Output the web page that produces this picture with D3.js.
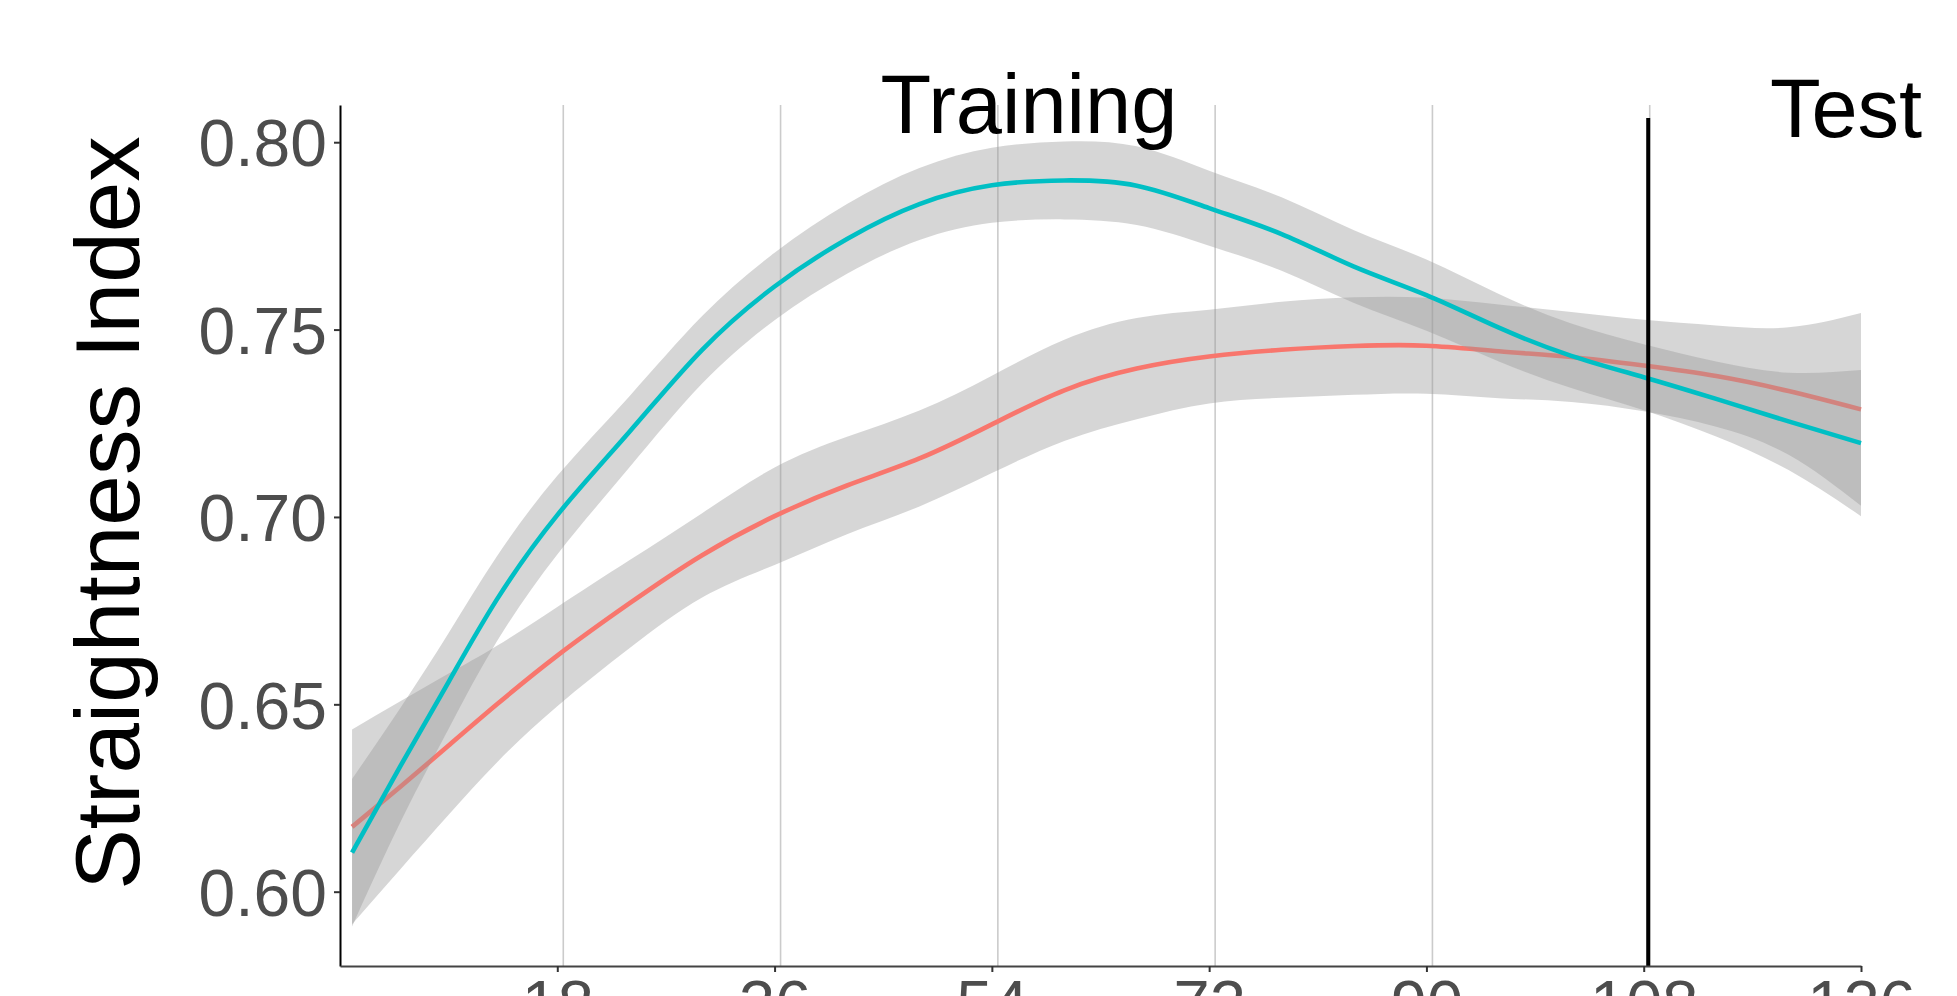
<!DOCTYPE html>
<html>
<head>
<meta charset="utf-8">
<script src="https://cdn.jsdelivr.net/npm/d3@7"></script>
<style>
  html, body { margin: 0; padding: 0; background: #ffffff; overflow: hidden; }
  svg { display: block; font-family: "Liberation Sans", Arial, sans-serif; }
</style>
</head>
<body>
<svg id="chart" width="1957" height="996"></svg>
<script>
// Session (trial block) at which each smoothed value is evaluated
const sessions = [1, 5, 9, 13, 18, 24, 30, 36, 42, 48, 54, 60, 66, 72, 78, 84, 90, 96, 102, 108, 114, 120, 126];

// Group A (red): loess fit with 95% confidence limits
const fitA   = [0.6173, 0.6280, 0.6390, 0.6500, 0.6630, 0.6770, 0.6898, 0.7002, 0.7084, 0.7156, 0.7247, 0.7338, 0.7396, 0.7428, 0.7446, 0.7456, 0.7457, 0.7442, 0.7427, 0.7404, 0.7376, 0.7336, 0.7287];
const lowerA = [0.5913, 0.6060, 0.6205, 0.6345, 0.6495, 0.6650, 0.6785, 0.6872, 0.6954, 0.7028, 0.7117, 0.7203, 0.7261, 0.7303, 0.7318, 0.7326, 0.7329, 0.7317, 0.7307, 0.7282, 0.7241, 0.7166, 0.7030];
const upperA = [0.6433, 0.6508, 0.6582, 0.6656, 0.6760, 0.6885, 0.7010, 0.7132, 0.7214, 0.7284, 0.7377, 0.7473, 0.7531, 0.7553, 0.7574, 0.7586, 0.7585, 0.7567, 0.7547, 0.7526, 0.7511, 0.7506, 0.7544];

// Group B (cyan): loess fit with 95% confidence limits
const fitB   = [0.6104, 0.6335, 0.6560, 0.6780, 0.7005, 0.7228, 0.7446, 0.7615, 0.7742, 0.7835, 0.7885, 0.7898, 0.7884, 0.7824, 0.7755, 0.7668, 0.7592, 0.7505, 0.7430, 0.7373, 0.7315, 0.7255, 0.7197];
const lowerB = [0.5907, 0.6185, 0.6435, 0.6668, 0.6900, 0.7133, 0.7356, 0.7525, 0.7649, 0.7739, 0.7785, 0.7794, 0.7779, 0.7724, 0.7657, 0.7571, 0.7497, 0.7415, 0.7344, 0.7285, 0.7215, 0.7125, 0.7002];
const upperB = [0.6301, 0.6490, 0.6690, 0.6895, 0.7110, 0.7323, 0.7536, 0.7705, 0.7835, 0.7931, 0.7985, 0.8002, 0.7989, 0.7924, 0.7853, 0.7765, 0.7687, 0.7595, 0.7516, 0.7461, 0.7415, 0.7385, 0.7392];

// Axis ticks and annotations
const xTicks = [18, 36, 54, 72, 90, 108, 126];
const xGrid = [18, 36, 54, 72, 90, 108];
const yTicks = [0.60, 0.65, 0.70, 0.75, 0.80];
const phaseBoundary = 108;
const phaseLabels = ["Training", "Test"];
const yTitle = "Straightness Index";

const svg = d3.select("#chart");

const x = d3.scaleLinear().domain([0, 126]).range([340, 1861]);
const y = d3.scaleLinear().domain([0.58017, 0.80993]).range([966, 105]);

// vertical guides are drawn a few pixels right of their ticks
const gridShift = 6;

// grid
svg.append("g")
  .selectAll("line")
  .data(xGrid)
  .join("line")
  .attr("x1", d => x(d) + gridShift)
  .attr("x2", d => x(d) + gridShift)
  .attr("y1", y.range()[1])
  .attr("y2", y.range()[0])
  .attr("stroke", "#cbcbcb")
  .attr("stroke-width", 1.6);

const groups = [
  { fit: fitA, lower: lowerA, upper: upperA, color: "#F8766D" },
  { fit: fitB, lower: lowerB, upper: upperB, color: "#00BFC4" }
];

const area = d3.area()
  .x(d => x(d.s))
  .y0(d => y(d.lo))
  .y1(d => y(d.hi))
  .curve(d3.curveNatural);

const line = d3.line()
  .x(d => x(d.s))
  .y(d => y(d.v))
  .curve(d3.curveNatural);

// each group: ribbon first, then its fitted line
const plot = svg.append("g");
groups.forEach(g => {
  const rows = sessions.map((s, i) => ({ s, v: g.fit[i], lo: g.lower[i], hi: g.upper[i] }));
  plot.append("path")
    .datum(rows)
    .attr("d", area)
    .attr("fill", "#999999")
    .attr("fill-opacity", 0.4);
  plot.append("path")
    .datum(rows)
    .attr("d", line)
    .attr("fill", "none")
    .attr("stroke", g.color)
    .attr("stroke-width", 4.6);
});

// training / test boundary
svg.append("line")
  .attr("x1", x(phaseBoundary) + 4.5)
  .attr("x2", x(phaseBoundary) + 4.5)
  .attr("y1", 118)
  .attr("y2", y.range()[0])
  .attr("stroke", "#000")
  .attr("stroke-width", 4);

// y axis
const yAxis = svg.append("g")
  .attr("transform", `translate(${x.range()[0]},0)`)
  .call(d3.axisLeft(y).tickValues(yTicks).tickFormat(d3.format(".2f")).tickSize(6).tickSizeOuter(0).tickPadding(7));
yAxis.select(".domain").attr("stroke", "#000").attr("stroke-width", 2);
yAxis.selectAll(".tick line").attr("stroke", "#333").attr("stroke-width", 2);
yAxis.selectAll(".tick text")
  .attr("fill", "#4d4d4d")
  .attr("font-size", 66)
  .attr("font-family", "'Liberation Sans', Arial, sans-serif")
  .attr("dy", "0.36em");

// x axis
const xAxis = svg.append("g")
  .attr("transform", `translate(0,${y.range()[0]})`)
  .call(d3.axisBottom(x).tickValues(xTicks).tickSize(6).tickSizeOuter(0).tickPadding(8));
xAxis.select(".domain").attr("stroke", "#444").attr("stroke-width", 2);
xAxis.selectAll(".tick line").attr("stroke", "#333").attr("stroke-width", 2);
xAxis.selectAll(".tick text")
  .attr("fill", "#4d4d4d")
  .attr("font-size", 65)
  .attr("font-family", "'Liberation Sans', Arial, sans-serif")
  .attr("dy", "0.71em");

// phase labels
svg.append("text")
  .attr("x", 1029)
  .attr("y", 133)
  .attr("text-anchor", "middle")
  .attr("font-size", 83)
  .attr("fill", "#000")
  .text(phaseLabels[0]);

svg.append("text")
  .attr("x", 1846)
  .attr("y", 137)
  .attr("text-anchor", "middle")
  .attr("font-size", 83)
  .attr("fill", "#000")
  .text(phaseLabels[1]);

// y title
svg.append("text")
  .attr("transform", "translate(139,513) rotate(-90)")
  .attr("text-anchor", "middle")
  .attr("font-size", 91)
  .attr("fill", "#000")
  .text(yTitle);
</script>
</body>
</html>
